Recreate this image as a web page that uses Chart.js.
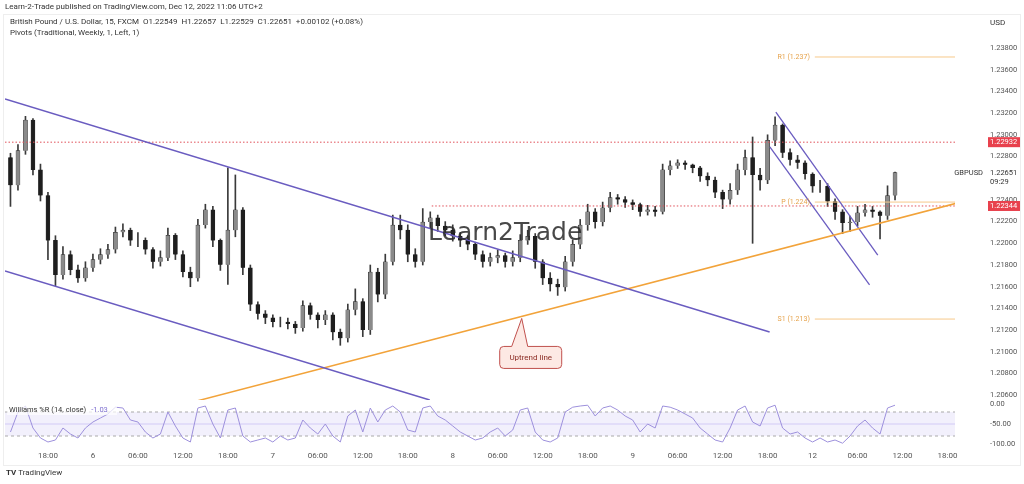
<!DOCTYPE html>
<html>
<head>
<meta charset="utf-8">
<script src="https://cdn.jsdelivr.net/npm/chart.js@4.4.0/dist/chart.umd.min.js"></script>
<style>
  body { margin: 0; background: #fff; font-family: Roboto, "Open Sans", sans-serif; }
  #wrap { position: relative; width: 1024px; height: 484px; overflow: hidden; }
  .txt { position: absolute; font-size: 8px; color: #333; white-space: nowrap; }
  #frame { position: absolute; left: 3px; top: 14px; width: 1016px; height: 450px; border: 1px solid #eee; }
  #mainBox { position: absolute; left: 0; top: 0; width: 1024px; height: 402px; }
  #rsiBox { position: absolute; left: 0; top: 398px; width: 1024px; height: 70px; }
</style>
</head>
<body>
<div id="wrap">
  <div id="frame"></div>
  <div id="mainBox"><canvas id="mainC"></canvas></div>
  <div id="rsiBox"><canvas id="rsiC"></canvas></div>
  <div class="txt" style="left:5px;top:2px;">Learn-2-Trade published on TradingView.com, Dec 12, 2022 11:06 UTC+2</div>
  <div class="txt" style="left:10px;top:17px;">British Pound / U.S. Dollar, 15, FXCM &nbsp;O1.22549 &nbsp;H1.22657 &nbsp;L1.22529 &nbsp;C1.22651 &nbsp;+0.00102 (+0.08%)</div>
  <div class="txt" style="left:10px;top:28px;">Pivots (Traditional, Weekly, 1, Left, 1)</div>
  <div class="txt" style="left:990px;top:18px;">USD</div>
  <div class="txt" style="left:6px;top:468px;font-weight:bold;">TV <span style="font-weight:normal">TradingView</span></div>
</div>
<script>
'use strict';
// hourly candles, first one at 13:00 on Dec 5 (hours counted from Dec 5 00:00, weekend removed)
const firstHour = 13;
const opens0 = 1.22790;
const closes = [1.22535,1.22854,1.23136,1.22676,1.22441,1.22027,1.21708,1.21896,1.21755,1.21679,
  1.21774,1.21849,1.21896,1.21943,1.22102,1.22121,1.22027,1.22027,1.21943,1.21830,
  1.21868,1.22074,1.21896,1.21736,1.21679,1.22168,1.22309,1.22027,1.21802,1.22121,
  1.22309,1.21774,1.21435,1.21351,1.21313,1.21275,1.21275,1.21256,1.21219,1.21426,
  1.21341,1.21294,1.21341,1.21181,1.21125,1.21388,1.21464,1.21200,1.21736,1.21529,
  1.21830,1.22168,1.22121,1.21896,1.21830,1.22196,1.22234,1.22159,1.22121,1.22065,
  1.22027,1.21990,1.21896,1.21830,1.21868,1.21887,1.21830,1.21868,1.22027,1.22065,
  1.21830,1.21679,1.21623,1.21595,1.21830,1.21990,1.22168,1.22291,1.22196,1.22328,
  1.22422,1.22404,1.22375,1.22356,1.22291,1.22309,1.22291,1.22676,1.22714,1.22742,
  1.22723,1.22695,1.22619,1.22582,1.22469,1.22404,1.22488,1.22676,1.22789,1.22629,
  1.22582,1.22948,1.23089,1.22835,1.22770,1.22742,1.22638,1.22525,1.22525,1.22385,
  1.22291,1.22187,1.22196,1.22281,1.22309,1.22291,1.22253,1.22441,1.22651];
const highs = [1.22830,1.22910,1.23170,1.23150,1.22730,1.22470,1.22070,1.21970,1.21930,1.21800,
  1.21830,1.21900,1.21950,1.21990,1.22150,1.22180,1.22140,1.22100,1.22050,1.21960,
  1.21930,1.22140,1.22090,1.21930,1.21780,1.22220,1.22360,1.22340,1.22040,1.22695,
  1.22630,1.22330,1.21800,1.21460,1.21380,1.21340,1.21320,1.21310,1.21280,1.21470,
  1.21450,1.21360,1.21380,1.21360,1.21210,1.21440,1.21580,1.21490,1.21800,1.21770,
  1.21900,1.22260,1.22260,1.22170,1.21950,1.22320,1.22290,1.22260,1.22200,1.22170,
  1.22100,1.22070,1.22010,1.21930,1.21910,1.21940,1.21910,1.21930,1.22080,1.22120,
  1.22090,1.21850,1.21730,1.21670,1.21880,1.22030,1.22220,1.22360,1.22320,1.22380,
  1.22470,1.22450,1.22430,1.22400,1.22370,1.22350,1.22340,1.22730,1.22760,1.22770,
  1.22760,1.22730,1.22710,1.22650,1.22610,1.22490,1.22550,1.22730,1.22860,1.22980,
  1.22690,1.23000,1.23165,1.23100,1.22870,1.22810,1.22760,1.22650,1.22580,1.22550,
  1.22410,1.22310,1.22250,1.22340,1.22360,1.22340,1.22300,1.22530,1.22657];
const lows = [1.22340,1.22490,1.22820,1.22630,1.22390,1.21850,1.21610,1.21670,1.21710,1.21640,
  1.21650,1.21740,1.21810,1.21860,1.21910,1.22060,1.21980,1.21970,1.21900,1.21770,
  1.21790,1.21840,1.21850,1.21690,1.21600,1.21650,1.22140,1.21970,1.21750,1.21620,
  1.22060,1.21710,1.21380,1.21300,1.21260,1.21230,1.21230,1.21210,1.21170,1.21190,
  1.21300,1.21220,1.21250,1.21110,1.21060,1.21090,1.21340,1.21140,1.21160,1.21460,
  1.21490,1.21800,1.22040,1.21830,1.21780,1.21800,1.22140,1.22110,1.22070,1.22020,
  1.21970,1.21940,1.21850,1.21780,1.21790,1.21820,1.21780,1.21790,1.21830,1.21990,
  1.21770,1.21620,1.21560,1.21520,1.21560,1.21790,1.21950,1.22120,1.22140,1.22160,
  1.22290,1.22360,1.22330,1.22310,1.22250,1.22260,1.22250,1.22270,1.22630,1.22690,
  1.22680,1.22650,1.22570,1.22530,1.22420,1.22320,1.22360,1.22450,1.22630,1.22000,
  1.22490,1.22550,1.22900,1.22790,1.22720,1.22690,1.22590,1.22470,1.22470,1.22340,
  1.22220,1.22090,1.22110,1.22160,1.22250,1.22240,1.22040,1.22220,1.22400];
const williamsR = [-70,-20,-5,-60,-85,-95,-90,-60,-75,-85,-60,-45,-35,-25,-8,-10,-40,-45,-70,-85,
  -75,-20,-55,-85,-95,-10,-5,-50,-85,-15,-10,-80,-95,-90,-85,-95,-80,-90,-85,-40,
  -60,-75,-50,-80,-95,-30,-15,-70,-10,-45,-15,-5,-20,-65,-70,-10,-5,-30,-40,-55,
  -70,-80,-90,-85,-70,-60,-80,-65,-15,-10,-70,-90,-95,-85,-20,-8,-5,-3,-30,-10,
  -5,-15,-30,-40,-70,-50,-60,-5,-8,-15,-25,-35,-60,-75,-90,-95,-60,-15,-5,-45,
  -55,-10,-3,-60,-75,-70,-85,-95,-85,-95,-90,-98,-80,-55,-40,-60,-75,-10,-3];

// axis ticks
const priceTicks = [1.206,1.208,1.210,1.212,1.214,1.216,1.218,1.220,1.222,1.224,1.226,1.228,1.230,1.232,1.234,1.236,1.238];
const timeTickHours = [18,24,30,36,42,48,54,60,66,72,78,84,90,96,102,108,114,120,126,132,138];
const timeTickLabels = ['18:00','6','06:00','12:00','18:00','7','06:00','12:00','18:00','8','06:00','12:00','18:00','9','06:00','12:00','18:00','12','06:00','12:00','18:00'];
const rsiTicks = [0, -50, -100];

// drawn lines: [hour, price] endpoints
const channelTop = [[12.27, 1.23330], [114.27, 1.21183]];
const channelBottom = [[12.27, 1.21745], [68.93, 1.20556]];
const uptrendLine = [[37.87, 1.20547], [139.3, 1.22371]];
const wedgeUpper = [[115.1, 1.23210], [128.7, 1.21892]];
const wedgeLower = [[114.3, 1.22888], [127.6, 1.21616]];
const pivotNames = ['R1 (1.237)', 'P (1.224)', 'S1 (1.213)'];
const pivotLevels = [1.23717, 1.22380, 1.21302];
const pivotStart = 120.3;
const redLevels = [1.22932, 1.22344];
const redStart = [12.27, 69.2];
const lastPrice = 1.22651;

const xMin = 12.27, xMax = 139.0;
const yMin = 1.20556, yMax = 1.24104;
const purple = '#6a5cc0', orange = '#f2a33a';
const axisX = 990;

const candleBodies = closes.map((c, i) => ({ x: firstHour + i, y: [i === 0 ? opens0 : closes[i - 1], c] }));
const candleWicks = closes.map((c, i) => ({ x: firstHour + i, y: [lows[i], highs[i]] }));
const bodyColors = candleBodies.map(d => d.y[1] >= d.y[0] ? '#8a8a8a' : '#1e1e1e');

const seg = (pts, color, width, dash) => ({
  type: 'line', data: pts.map(p => ({ x: p[0], y: p[1] })), borderColor: color, borderWidth: width,
  borderDash: dash || [], pointRadius: 0, fill: false, order: 0
});

const lineSets = [
  seg(channelTop, purple, 1.5), seg(channelBottom, purple, 1.5), seg(uptrendLine, orange, 1.5),
  seg(wedgeUpper, purple, 1.3), seg(wedgeLower, purple, 1.3),
  ...pivotLevels.map(p => seg([[pivotStart, p], [xMax, p]], '#f7c98a', 1)),
  ...redLevels.map((p, i) => seg([[redStart[i], p], [xMax, p]], '#e0505a', 1, [1.5, 2]))
];

// y tick labels drawn by hand at the right, positioned by the scale
const drawYTicks = (chart, ticks, fmt) => {
  const { ctx, scales: { y } } = chart;
  ctx.save();
  ctx.font = '7.5px Roboto';
  ctx.fillStyle = '#555';
  ctx.textAlign = 'left';
  ctx.textBaseline = 'middle';
  ticks.forEach(v => ctx.fillText(fmt(v), axisX, y.getPixelForValue(v)));
  ctx.restore();
};

const annotations = {
  id: 'annotations',
  afterDatasetsDraw(chart) {
    const { ctx, scales: { x, y } } = chart;
    ctx.save();
    ctx.font = '7px Roboto';
    ctx.fillStyle = '#e6a24a';
    ctx.textAlign = 'right';
    ctx.textBaseline = 'middle';
    pivotNames.forEach((n, i) => ctx.fillText(n, x.getPixelForValue(pivotStart) - 5, y.getPixelForValue(pivotLevels[i])));
    // watermark
    ctx.font = '25px "DejaVu Sans", sans-serif';
    ctx.fillStyle = 'rgba(40,40,40,0.85)';
    ctx.textAlign = 'center';
    ctx.fillText('Learn2Trade', x.getPixelForValue(79), y.getPixelForValue(1.22095));
    // callout
    const ax = x.getPixelForValue(81.2);
    const ay = y.getPixelForValue(uptrendLine[0][1] + (uptrendLine[1][1] - uptrendLine[0][1]) * (81.2 - uptrendLine[0][0]) / (uptrendLine[1][0] - uptrendLine[0][0]));
    const bx = ax - 22, by = ay + 30, bw = 62, bh = 22;
    ctx.fillStyle = '#fde9e4';
    ctx.strokeStyle = '#c0504d';
    ctx.lineWidth = 1;
    ctx.beginPath();
    ctx.moveTo(bx + 4, by); ctx.lineTo(ax - 10, by); ctx.lineTo(ax, ay + 2); ctx.lineTo(ax + 6, by);
    ctx.lineTo(bx + bw - 4, by); ctx.quadraticCurveTo(bx + bw, by, bx + bw, by + 4);
    ctx.lineTo(bx + bw, by + bh - 4); ctx.quadraticCurveTo(bx + bw, by + bh, bx + bw - 4, by + bh);
    ctx.lineTo(bx + 4, by + bh); ctx.quadraticCurveTo(bx, by + bh, bx, by + bh - 4);
    ctx.lineTo(bx, by + 4); ctx.quadraticCurveTo(bx, by, bx + 4, by);
    ctx.fill(); ctx.stroke();
    ctx.fillStyle = '#8a2a22';
    ctx.font = '8px Roboto';
    ctx.fillText('Uptrend line', bx + bw / 2, by + bh / 2 + 1);
    ctx.restore();
  },
  afterDraw(chart) {
    drawYTicks(chart, priceTicks, v => v.toFixed(5));
    const { ctx, scales: { y } } = chart;
    ctx.save();
    ctx.font = '7.5px Roboto';
    ctx.textBaseline = 'middle';
    redLevels.forEach(p => {
      const py = y.getPixelForValue(p);
      ctx.fillStyle = '#e8414d';
      ctx.fillRect(988, py - 5, 32, 10);
      ctx.fillStyle = '#fff';
      ctx.textAlign = 'left';
      ctx.fillText(p.toFixed(5), axisX, py);
    });
    const ly = y.getPixelForValue(lastPrice);
    ctx.fillStyle = '#fff';
    ctx.fillRect(988, ly - 6, 32, 18);
    ctx.fillStyle = '#333';
    ctx.fillText(lastPrice.toFixed(5), axisX, ly);
    ctx.fillText('09:29', axisX, ly + 9);
    ctx.textAlign = 'right';
    ctx.fillText('GBPUSD', 983, ly);
    ctx.restore();
  }
};

const xAxis = () => ({ type: 'linear', min: xMin, max: xMax, display: false, offset: false });

new Chart(document.getElementById('mainC'), {
  type: 'bar',
  data: {
    datasets: [
      { data: candleWicks, backgroundColor: '#3a3a3a', barThickness: 1, grouped: false, order: 2 },
      { data: candleBodies, backgroundColor: bodyColors, borderColor: '#1e1e1e', borderWidth: 0.5, barThickness: 4, grouped: false, order: 1 },
      ...lineSets
    ]
  },
  options: {
    responsive: true, maintainAspectRatio: false, animation: false, events: [],
    layout: { padding: { left: 5, top: 15, bottom: 2, right: 69 } },
    plugins: { legend: { display: false }, tooltip: { enabled: false } },
    scales: { x: xAxis(), y: { display: false, min: yMin, max: yMax } }
  },
  plugins: [annotations]
});

const rsiBand = {
  id: 'rsiBand',
  beforeDatasetsDraw(chart) {
    const { ctx, chartArea: a, scales: { x, y } } = chart;
    ctx.save();
    ctx.fillStyle = 'rgba(150,130,230,0.12)';
    ctx.fillRect(a.left, y.getPixelForValue(-20), a.right - a.left, y.getPixelForValue(-80) - y.getPixelForValue(-20));
    ctx.strokeStyle = '#aaa';
    ctx.setLineDash([3, 3]);
    [-20, -80].forEach(v => { const py = y.getPixelForValue(v); ctx.beginPath(); ctx.moveTo(a.left, py); ctx.lineTo(a.right, py); ctx.stroke(); });
    ctx.setLineDash([]);
    ctx.strokeStyle = 'rgba(150,130,230,0.35)';
    const m = y.getPixelForValue(-50);
    ctx.beginPath(); ctx.moveTo(a.left, m); ctx.lineTo(a.right, m); ctx.stroke();
    // time axis
    ctx.fillStyle = '#555';
    ctx.font = '8px Roboto';
    ctx.textAlign = 'center';
    ctx.textBaseline = 'middle';
    timeTickHours.forEach((h, i) => ctx.fillText(timeTickLabels[i], x.getPixelForValue(h), a.bottom + 10));
    ctx.restore();
  },
  afterDraw(chart) {
    drawYTicks(chart, rsiTicks, v => v.toFixed(2));
    const { ctx, chartArea: a } = chart;
    ctx.save();
    ctx.font = '7.5px Roboto';
    ctx.textBaseline = 'middle';
    ctx.fillStyle = 'rgba(255,255,255,0.7)';
    ctx.fillRect(7, a.top + 3, 110, 10);
    ctx.fillStyle = '#333';
    ctx.fillText('Williams %R (14, close)', 9, a.top + 8);
    ctx.fillStyle = '#7e6fd0';
    ctx.fillText('-1.03', ctx.measureText('Williams %R (14, close)').width + 14, a.top + 8);
    ctx.restore();
  }
};

new Chart(document.getElementById('rsiC'), {
  type: 'line',
  data: {
    datasets: [{ data: williamsR.map((v, i) => ({ x: firstHour + i, y: v })), borderColor: '#9d90dc', borderWidth: 1, pointRadius: 0, tension: 0 }]
  },
  options: {
    responsive: true, maintainAspectRatio: false, animation: false, events: [],
    layout: { padding: { left: 5, top: 4, bottom: 22, right: 69 } },
    plugins: { legend: { display: false }, tooltip: { enabled: false } },
    scales: { x: xAxis(), y: { display: false, min: -105, max: 5 } }
  },
  plugins: [rsiBand]
});
</script>
</body>
</html>
